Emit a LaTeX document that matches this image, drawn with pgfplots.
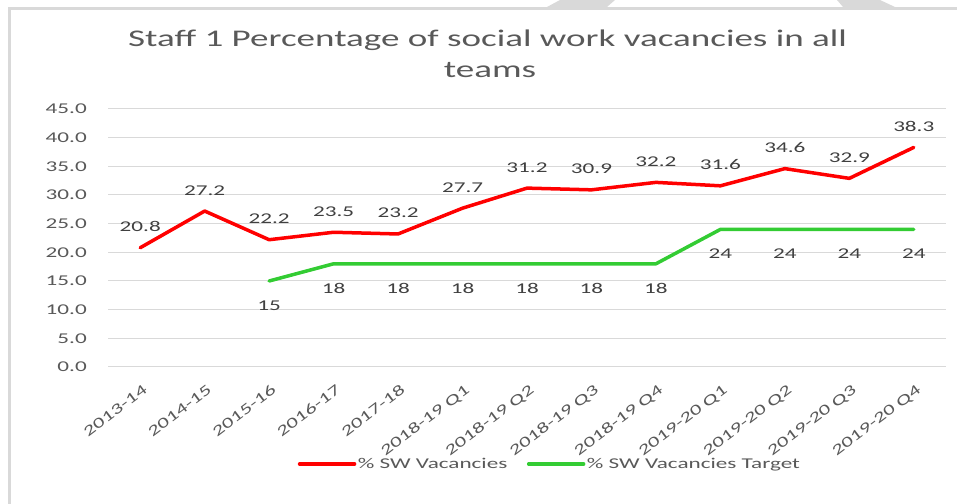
\documentclass[border=0pt]{standalone}
\usepackage{fontspec}
\setmainfont{Carlito}[FakeStretch=1.55]
\newfontfamily\rotfont{Carlito}[FakeStretch=1.5]
\usepackage{pgfplots}
\usepackage{pgfplotstable}
\pgfplotsset{compat=1.18}
\definecolor{txt}{HTML}{595959}
\definecolor{lbl}{HTML}{404040}
\definecolor{gridc}{HTML}{D9D9D9}
\definecolor{redl}{HTML}{FF0000}
\definecolor{greenl}{HTML}{33CC33}

\pgfplotstableread{
x y
0 20.8
1 27.2
2 22.2
3 23.5
4 23.2
5 27.7
6 31.2
7 30.9
8 32.2
9 31.6
10 34.6
11 32.9
12 38.3
}\redtab

\pgfplotstableread{
x y
2 15
3 18
4 18
5 18
6 18
7 18
8 18
9 24
10 24
11 24
12 24
}\greentab

\begin{document}
\begin{tikzpicture}[x=1bp,y=1bp]
\path[use as bounding box] (0,0) rectangle (957,504);
\fill[gridc] (547,497) -- (560,504) -- (615,504) -- (607,497) -- cycle;
\fill[gridc] (843,497) -- (837,504) -- (880,504) -- (895,497) -- cycle;
\draw[gridc, line width=2.5bp] (9.5,-5) -- (9.5,495.5) -- (970,495.5);
\node[font=\fontsize{24}{24}\selectfont, text=txt, anchor=base, inner sep=0pt] at (487.5,457) {Staff 1 Percentage of social work vacancies in all};
\node[font=\fontsize{24}{24}\selectfont, text=txt, anchor=base, inner sep=0pt] at (490,426) {teams};
\begin{axis}[
  at={(108bp,137bp)}, anchor=south west,
  width=838bp, height=258bp, scale only axis,
  xmin=-0.5, xmax=12.5, ymin=0, ymax=45,
  ytick={0,5,...,45},
  xtick={0,...,12},
  xticklabels={2013-14,2014-15,2015-16,2016-17,2017-18,2018-19 Q1,2018-19 Q2,2018-19 Q3,2018-19 Q4,2019-20 Q1,2019-20 Q2,2019-20 Q3,2019-20 Q4},
  ymajorgrids,
  grid style={gridc, line width=1bp},
  axis line style={draw=none},
  major tick length=0pt,
  /pgf/number format/fixed,
  /pgf/number format/fixed zerofill,
  /pgf/number format/precision=1,
  /pgf/number format/assume math mode=true,
  yticklabel style={font=\fontsize{15}{15}\selectfont, text=txt, anchor=east, inner sep=0pt, xshift=-21bp},
  xticklabel style={font=\rotfont\fontsize{15}{15}\selectfont, text=txt, inner sep=0pt, anchor=base east, xshift=8bp, yshift=-25bp, rotate=37},
  clip=false,
  legend columns=2,
  legend style={draw=none, fill=none, at={(axis description cs:0.527,-0.376)}, anchor=center,
    font=\fontsize{15}{15}\selectfont, text=txt,
    nodes={inner sep=1.5bp},
    /tikz/every even column/.append style={column sep=18bp}},
  legend image code/.code={\draw[#1, line cap=round] (0bp,0bp) -- (55bp,0bp);},
]
\addplot[redl, line width=3.5bp, line join=round, line cap=round,
  nodes near coords={\pgfmathprintnumber[fixed,fixed zerofill,precision=1,assume math mode=true]{\pgfplotspointmeta}},
  nodes near coords style={font=\fontsize{15}{15}\selectfont, text=lbl, anchor=base, yshift=16bp, inner sep=0pt}]
  table[x=x,y=y] {\redtab};
\addlegendentry{\% SW Vacancies}
\addplot[greenl, line width=3.5bp, line join=round, line cap=round,
  nodes near coords={\pgfmathprintnumber[fixed,precision=0,assume math mode=true]{\pgfplotspointmeta}},
  nodes near coords style={font=\fontsize{15}{15}\selectfont, text=lbl, anchor=base, yshift=-29.5bp, inner sep=0pt}]
  table[x=x,y=y] {\greentab};
\addlegendentry{\% SW Vacancies Target}
\end{axis}
\end{tikzpicture}
\end{document}
